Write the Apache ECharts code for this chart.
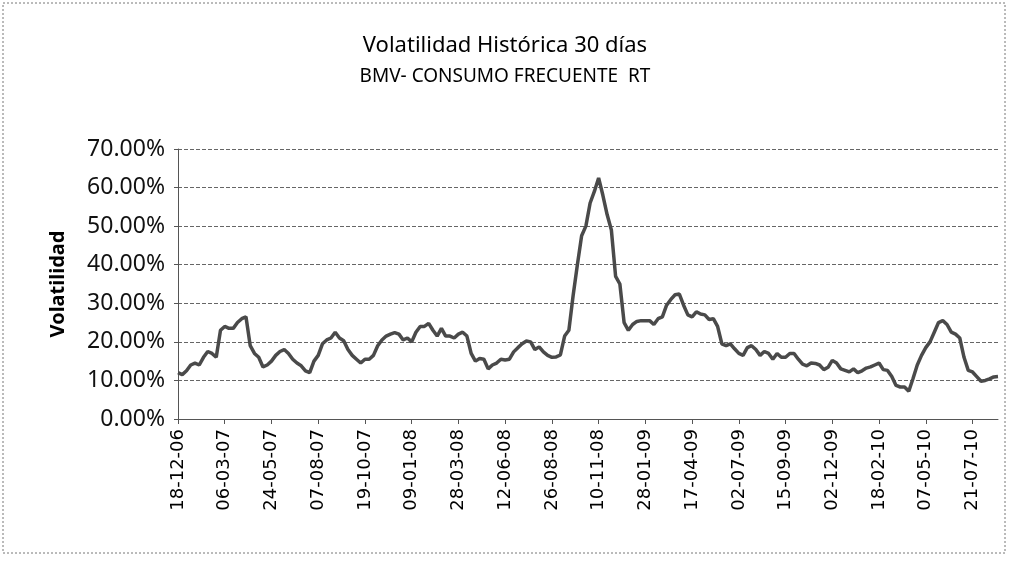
<!DOCTYPE html>
<html lang="es">
<head>
    <meta charset="UTF-8">
    <title>Volatilidad Histórica 30 días</title>
    <script src="https://cdn.jsdelivr.net/npm/echarts@6/dist/echarts.min.js"></script>
    <style>
        html, body { margin: 0; padding: 0; background: #fff; }
    </style>
</head>
<body>
<div id="main" style="width: 1010px;height:563px;"></div>

<script type="text/javascript">
    // fechas de las etiquetas del eje x (una cada 11 puntos)
    var tickLabels = ['18-12-06', '06-03-07', '24-05-07', '07-08-07', '19-10-07', '09-01-08',
        '28-03-08', '12-06-08', '26-08-08', '10-11-08', '28-01-09', '17-04-09',
        '02-07-09', '15-09-09', '02-12-09', '18-02-10', '07-05-10', '21-07-10'];
    var labelStep = 11;

    // volatilidad (%), aprox. semanal
    var volatilidad = [
        12, 11.5, 12.5, 14, 14.5, 14, 16, 17.5, 17, 16,
        23, 24, 23.5, 23.5, 25, 26, 26.5, 19, 17, 16,
        13.5, 14, 15, 16.5, 17.5, 18, 17, 15.5, 14.5, 13.8,
        12.5, 12, 15, 16.5, 19.5, 20.5, 21, 22.5, 21, 20.3,
        18, 16.5, 15.5, 14.5, 15.5, 15.5, 16.5, 19, 20.5, 21.5,
        22, 22.4, 22, 20.5, 21, 20, 22.5, 24, 24, 24.8,
        23, 21.5, 23.5, 21.5, 21.5, 21, 22, 22.5, 21.5, 17,
        15, 15.7, 15.5, 13, 14, 14.5, 15.5, 15.3, 15.5, 17.4,
        18.5, 19.5, 20.2, 20, 18, 18.7, 17.4, 16.5, 16, 16.1,
        16.6, 21.5, 23, 32, 40, 47.5, 50, 56, 59, 62.5,
        58, 53, 49, 37, 35, 25, 23, 24.5, 25.3, 25.5,
        25.5, 25.5, 24.5, 26, 26.5, 29.5, 31, 32.2, 32.4, 29.5,
        27, 26.5, 27.8, 27.2, 27, 25.8, 26, 24, 19.5, 19,
        19.5, 18.2, 17, 16.5, 18.5, 19, 18, 16.5, 17.5, 17,
        15.5, 17, 16, 16, 17, 17, 15.5, 14.2, 13.8, 14.5,
        14.4, 14, 12.8, 13.4, 15.2, 14.5, 13, 12.6, 12.2, 13,
        12, 12.5, 13.2, 13.5, 14, 14.5, 12.8, 12.6, 11, 8.7,
        8.3, 8.3, 7.2, 10.5, 14, 16.5, 18.5, 20, 22.5, 25,
        25.5, 24.5, 22.5, 22, 21, 16, 12.6, 12.2, 11, 9.8,
        10, 10.4, 10.9, 11
    ];

    var categorias = [];
    for (var i = 0; i < volatilidad.length; i++) {
        categorias.push(i % labelStep === 0 ? tickLabels[i / labelStep] : '');
    }

    var myChart = echarts.init(document.getElementById('main'));

    var option = {
        backgroundColor: '#fff',
        animation: false,
        title: {
            text: 'Volatilidad Histórica 30 días',
            subtext: 'BMV- CONSUMO FRECUENTE  RT',
            left: 'center',
            top: 30,
            itemGap: 10,
            textStyle: {
                fontFamily: 'Noto Sans',
                fontSize: 22,
                fontWeight: 'normal',
                color: '#000'
            },
            subtextStyle: {
                fontFamily: 'Noto Sans',
                fontSize: 19,
                color: '#000'
            }
        },
        graphic: [{
            type: 'rect',
            shape: { x: 3, y: 3, width: 1002, height: 550 },
            style: { fill: 'none', stroke: '#777', lineWidth: 1, lineDash: [2, 2] },
            silent: true
        }],
        grid: {
            left: 178,
            right: 12,
            top: 149,
            bottom: 144
        },
        xAxis: {
            type: 'category',
            data: categorias,
            boundaryGap: false,
            axisLine: { lineStyle: { color: '#555', width: 1 } },
            axisTick: { interval: labelStep - 1, length: 5, lineStyle: { color: '#555' } },
            axisLabel: {
                interval: labelStep - 1,
                rotate: 90,
                margin: 10,
                fontFamily: 'DejaVu Sans',
                fontSize: 18,
                color: '#000'
            },
            splitLine: { show: false }
        },
        yAxis: {
            type: 'value',
            min: 0,
            max: 70,
            interval: 10,
            name: 'Volatilidad',
            nameLocation: 'middle',
            nameGap: 110,
            nameTextStyle: {
                fontFamily: 'Noto Sans',
                fontSize: 20,
                fontWeight: 'bold',
                color: '#000'
            },
            axisLine: { show: true, lineStyle: { color: '#555', width: 1 } },
            axisTick: { show: true, length: 4, lineStyle: { color: '#555' } },
            axisLabel: {
                fontFamily: 'Noto Sans',
                fontSize: 23,
                color: '#111',
                margin: 13,
                formatter: function (v) { return v.toFixed(2) + '%'; }
            },
            splitLine: { lineStyle: { color: '#666', type: [4, 2], width: 1 } }
        },
        series: [{
            name: 'Volatilidad',
            type: 'line',
            data: volatilidad,
            showSymbol: false,
            lineStyle: { color: '#4a4a4a', width: 3.5 }
        }]
    };

    myChart.setOption(option);
</script>
</body>
</html>
